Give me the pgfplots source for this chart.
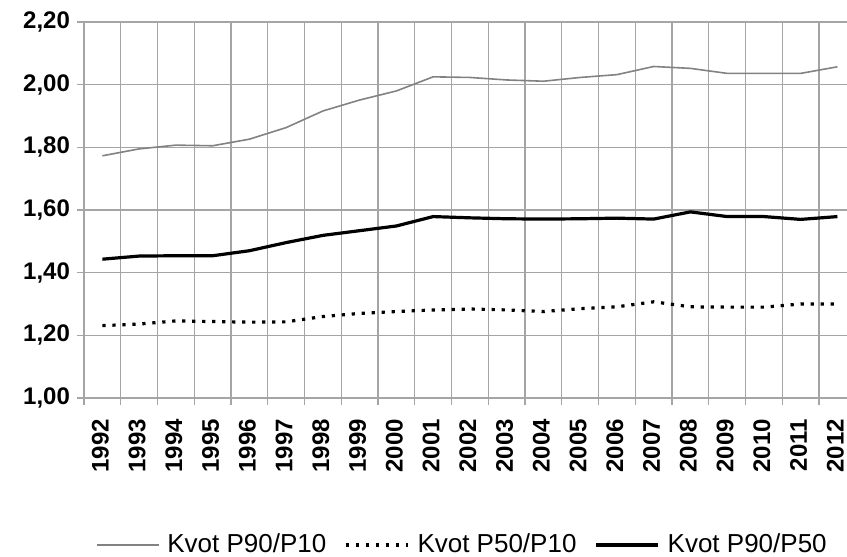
\documentclass[border=0pt]{standalone}
\usepackage{pgfplots}
\pgfplotsset{compat=1.18}
\usepackage{fontspec}
\setmainfont{Liberation Sans}

\definecolor{gridgray}{RGB}{165,165,165}
\definecolor{linegray}{RGB}{130,130,130}

\begin{document}
\begin{tikzpicture}[x=1pt,y=1pt]
\begin{axis}[
    name=ax,
    at={(0,0)}, anchor=south west,
    width=381.5pt, height=188pt,
    scale only axis,
    font=\fontsize{12}{14}\selectfont,
    xmin=-0.5, xmax=20.26,
    ymin=1, ymax=2.2,
    ytick={1,1.2,...,2.21},
    xtick={0,...,20},
    xticklabels={1992,1993,1994,1995,1996,1997,1998,1999,2000,2001,2002,2003,2004,2005,2006,2007,2008,2009,2010,2011,2012},
    minor xtick={-0.5,0.5,...,19.5},
    xminorgrids=true,
    ymajorgrids=true,
    grid style={gridgray, line width=0.6pt},
    minor grid style={gridgray, line width=0.6pt},
    axis x line*=bottom,
    axis y line*=left,
    axis line style={gridgray, line width=0.6pt, -},
    tick align=outside,
    major x tick style={draw=none},
    minor x tick style={gridgray, line width=0.6pt},
    minor tick length=3.5pt,
    major y tick style={gridgray, line width=0.6pt},
    major tick length=3.5pt,
    yticklabel style={font=\fontsize{12}{14}\selectfont\bfseries},
    xticklabel style={font=\fontsize{12}{14}\selectfont\bfseries,
        yshift=-3.5pt, xshift=-1pt, rotate=90, anchor=east},
    /pgf/number format/.cd, fixed, fixed zerofill, precision=2, use comma, assume math mode=true,
    /pgfplots/.cd,
    legend style={draw=none, fill=none, legend columns=3,
        at={(0.497,-0.391)}, anchor=center,
        font=\fontsize{13}{15}\selectfont,
        /tikz/every odd column/.append style={column sep=2pt},
        /tikz/every even column/.append style={column sep=7pt}},
    legend image code/.code={\draw[#1] (0pt,0pt) -- (31pt,0pt);},
]
\addplot[linegray, line width=0.8pt] coordinates {
(0,1.773)(1,1.795)(2,1.807)(3,1.805)(4,1.826)(5,1.863)(6,1.916)(7,1.951)(8,1.980)(9,2.025)(10,2.023)
(11,2.015)(12,2.011)(13,2.023)(14,2.032)(15,2.058)(16,2.052)(17,2.036)(18,2.036)(19,2.036)(20,2.057)};
\addlegendentry{Kvot P90/P10}
\addplot[black, line width=1.6pt, dash pattern=on 1.6pt off 3.4pt] coordinates {
(0,1.231)(1,1.236)(2,1.246)(3,1.244)(4,1.242)(5,1.243)(6,1.260)(7,1.270)(8,1.276)(9,1.281)(10,1.284)
(11,1.281)(12,1.276)(13,1.285)(14,1.291)(15,1.307)(16,1.291)(17,1.290)(18,1.290)(19,1.300)(20,1.300)};
\addlegendentry{Kvot P50/P10}
\addplot[black, line width=1.6pt] coordinates {
(0,1.443)(1,1.453)(2,1.454)(3,1.454)(4,1.470)(5,1.496)(6,1.519)(7,1.534)(8,1.549)(9,1.579)(10,1.575)
(11,1.572)(12,1.571)(13,1.572)(14,1.574)(15,1.571)(16,1.594)(17,1.579)(18,1.579)(19,1.570)(20,1.579)};
\addlegendentry{Kvot P90/P50}
\end{axis}
\pgfresetboundingbox
\path[use as bounding box] (-42pt,-79.5pt) rectangle (381.5pt,199pt);
\end{tikzpicture}
\end{document}
